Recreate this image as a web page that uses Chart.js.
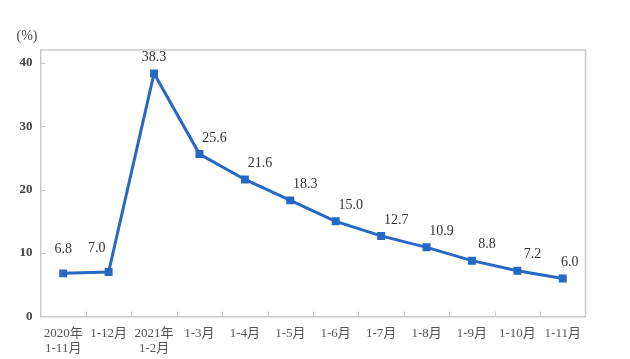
<!DOCTYPE html>
<html>
<head>
<meta charset="utf-8">
<script src="https://cdn.jsdelivr.net/npm/chart.js@4/dist/chart.umd.min.js"></script>
<style>
html,body{margin:0;padding:0;background:#fff;}
#wrap{width:630px;height:359px;position:relative;}
</style>
</head>
<body>
<div id="wrap"><canvas id="c" width="630" height="359"></canvas></div>
<script>
const categories = [["2020年","1-11月"],"1-12月",["2021年","1-2月"],"1-3月","1-4月","1-5月","1-6月","1-7月","1-8月","1-9月","1-10月","1-11月"];
const values = [6.8, 7.0, 38.3, 25.6, 21.6, 18.3, 15.0, 12.7, 10.9, 8.8, 7.2, 6.0];
const yTicks = [0, 10, 20, 30, 40];
const unitLabel = "(%)";

const SERIF = '"Liberation Serif", "DejaVu Serif", "Noto Sans CJK SC", serif';
const frameColor = '#c9c9c9';
const lineColor = '#2668c2';

const framePlugin = {
  id: 'frame',
  afterDraw(chart) {
    const {ctx, chartArea: a, scales} = chart;
    ctx.save();
    ctx.strokeStyle = frameColor;
    ctx.lineWidth = 1.5;
    ctx.beginPath();
    ctx.moveTo(a.left, a.top); ctx.lineTo(a.right, a.top); ctx.lineTo(a.right, a.bottom);
    ctx.stroke();
    ctx.lineWidth = 1;
    ctx.beginPath();
    yTicks.forEach(v => {
      const y = Math.round(scales.y.getPixelForValue(v)) + 0.5;
      if (v === 0) return;
      ctx.moveTo(a.left, y); ctx.lineTo(a.left + 5, y);
    });
    const n = categories.length;
    for (let i = 1; i < n; i++) {
      const x = Math.round((scales.x.getPixelForValue(i - 1) + scales.x.getPixelForValue(i)) / 2) + 0.5;
      ctx.moveTo(x, a.bottom); ctx.lineTo(x, a.bottom - 5);
    }
    ctx.stroke();
    ctx.fillStyle = '#444';
    ctx.font = '14px ' + SERIF;
    ctx.textAlign = 'center';
    ctx.textBaseline = 'middle';
    ctx.fillText(unitLabel, 27, 36);
    const meta = chart.getDatasetMeta(0);
    ctx.fillStyle = '#333';
    ctx.font = '14px ' + SERIF;
    const last = meta.data.length - 1;
    meta.data.forEach((pt, i) => {
      let dx = i > 2 ? 15 : 0;
      if (i === 1) dx = -12;
      if (i === last) dx = 7;
      const dy = i < 2 ? 24 : 16;
      ctx.fillText(values[i].toFixed(1), pt.x + dx, pt.y - dy);
    });
    ctx.restore();
  }
};

new Chart(document.getElementById('c'), {
  type: 'line',
  data: {
    labels: categories,
    datasets: [{
      data: values,
      borderColor: lineColor,
      backgroundColor: lineColor,
      borderWidth: 3,
      pointStyle: 'rect',
      pointRadius: 3.5,
      pointHoverRadius: 3.5,
      tension: 0,
      fill: false
    }]
  },
  options: {
    responsive: false,
    animation: false,
    devicePixelRatio: 1,
    layout: {padding: {top: 50, right: 44.5, left: 0, bottom: 0}},
    plugins: {legend: {display: false}, tooltip: {enabled: false}},
    scales: {
      x: {
        offset: true,
        grid: {display: false, drawTicks: false},
        border: {display: true, color: frameColor, width: 1.5},
        ticks: {
          color: '#555',
          font: {family: SERIF, size: 13},
          padding: 9,
          maxRotation: 0,
          autoSkip: false
        },
        afterFit(s) { s.height = 42.5; }
      },
      y: {
        min: 0,
        max: 42,
        grid: {display: false, drawTicks: false},
        border: {display: true, color: frameColor, width: 1.5},
        afterBuildTicks(s) { s.ticks = yTicks.map(v => ({value: v})); },
        ticks: {
          color: '#444',
          font: {family: SERIF, size: 13, weight: 'bold'},
          padding: 8
        },
        afterFit(s) { s.width = 40.5; }
      }
    }
  },
  plugins: [framePlugin]
});
</script>
</body>
</html>
